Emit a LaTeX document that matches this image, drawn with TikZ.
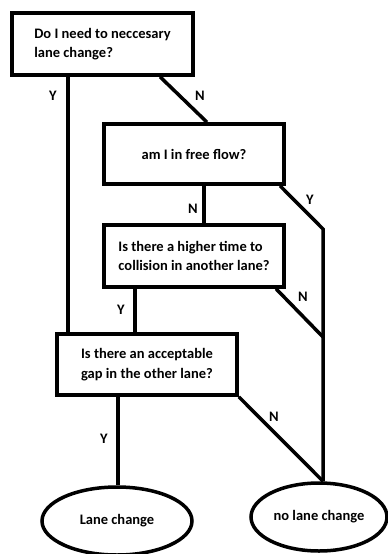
\documentclass[tikz,border=0pt]{standalone}
\usepackage{fontspec}
\setmainfont{Carlito}
\tikzset{
  box/.style={draw,rectangle,line width=3.5pt,align=left,inner sep=0pt,
    font=\bfseries\fontsize{14.5}{19.5}\selectfont},
  oval/.style={draw,ellipse,line width=3.5pt,inner sep=0pt,
    font=\bfseries\fontsize{14.5}{19.5}\selectfont},
  lbl/.style={font=\bfseries\fontsize{14.5}{17}\selectfont},
  link/.style={line width=3.5pt,line join=miter}
}
\usetikzlibrary{shapes.geometric}
\begin{document}
\begin{tikzpicture}[x=1pt,y=-1pt]
        \useasboundingbox (0,0) rectangle (388,554);
        % questions
        \node[box,minimum width=181pt,minimum height=62pt] (q1) at (102.5,44){Do I need to neccesary\\lane change?};
        \node[box,minimum width=180pt,minimum height=60pt] (q2) at (194,154){am I in free flow?};
        \node[box,minimum width=180pt,minimum height=62pt] (q3) at (194,256){Is there a higher time to\\collision in another lane?};
        \node[box,minimum width=180pt,minimum height=61pt] (q4) at (147,364.5){Is there an acceptable\\gap in the other lane?};
        % answers
        \node[oval,minimum width=150pt,minimum height=68pt] (e1) at (117,521){Lane change};
        \node[oval,minimum width=136pt,minimum height=68pt] (e2) at (319,517){no lane change};
        \coordinate (k1) at (323,229);
        \coordinate (k2) at (323,337);
        % links
        \draw[link] (q1.south -| 68,0) to (q4.north -| 68,0);
        \draw[link] (q1.south -| 160,0) to (q2.north -| 207,0);
        \draw[link] (q2.south -| 204,0) to (q3.north -| 204,0);
        \draw[link] (q2.south -| 280,0) to (k1) to (e2.north -| 323,0);
        \draw[link] (q3.south -| 276,0) to (k2);
        \draw[link] (q3.south -| 135,0) to (q4.north -| 135,0);
        \draw[link] (q4.south -| 118,0) to (e1.north -| 118,0);
        \draw[link] (q4.south east) to (e2.north -| 323,0);
        % labels
        \node[lbl] (l1) at (53,96){Y};
        \node[lbl] (l2) at (200,96){N};
        \node[lbl] (l3) at (193,209){N};
        \node[lbl] (l4) at (310,200){Y};
        \node[lbl] (l5) at (303,297){N};
        \node[lbl] (l6) at (121,310){Y};
        \node[lbl] (l7) at (104,439){Y};
        \node[lbl] (l8) at (274,417){N};
    \end{tikzpicture}
\end{document}
